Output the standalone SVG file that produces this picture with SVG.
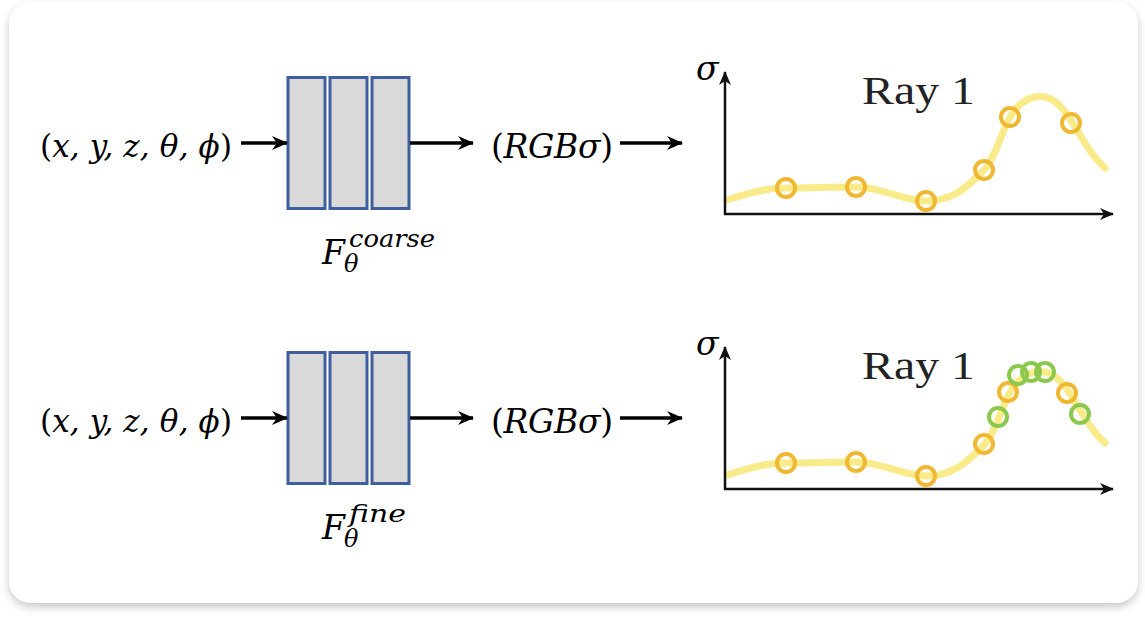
<svg xmlns="http://www.w3.org/2000/svg" width="1145" height="617" viewBox="0 0 1145 617">
<defs>
<filter id="sh" x="-5%" y="-5%" width="110%" height="115%">
<feDropShadow dx="0" dy="4" stdDeviation="4" flood-color="#000" flood-opacity="0.22"/>
</filter>
<marker id="ah" viewBox="0 0 16 14" refX="15" refY="7" markerWidth="16" markerHeight="14" markerUnits="userSpaceOnUse" orient="auto">
<path d="M0,0 L16,7 L0,14 L5,7 Z" fill="#000"/>
</marker>
<marker id="ax" viewBox="0 0 14 12" refX="13" refY="6" markerWidth="14" markerHeight="12" markerUnits="userSpaceOnUse" orient="auto">
<path d="M0,0 L14,6 L0,12 L4,6 Z" fill="#111"/>
</marker>
<path id="curve" d="M 727 200 C 750 193, 765 188, 786 188 C 810 188, 835 187, 856 187 C 880 187, 905 201, 926 201 C 950 201, 965 190, 984 170 C 998 155, 1002 125, 1015 110 C 1025 98, 1035 95, 1045 97 C 1060 100, 1070 118, 1080 135 C 1090 152, 1098 162, 1105 168"/>
</defs>
<style>
.math{font-family:"DejaVu Serif","Liberation Serif",serif;font-style:italic;font-size:33px;fill:#000}
.inp{font-size:31px}
.up{font-style:normal}
.sup{font-family:"DejaVu Serif","Liberation Serif",serif;font-style:italic;font-size:24px;fill:#000}
.ray{font-family:"Liberation Serif","DejaVu Serif",serif;font-size:40px;fill:#222}
.blk{fill:#d9d9d9;stroke:#3f5e9e;stroke-width:3}
.arr{stroke:#000;stroke-width:3.5;fill:none;marker-end:url(#ah)}
.axis{stroke:#111;stroke-width:2.5;fill:none;marker-end:url(#ax)}
.crv{fill:none;stroke:#f9ea8a;stroke-width:7;stroke-linecap:round}
.po{fill:none;stroke:#f0b731;stroke-width:4}
.pg{fill:none;stroke:#8cc84e;stroke-width:4}
</style>
<rect x="0" y="0" width="1145" height="617" fill="#fff"/>
<rect x="9" y="2" width="1129" height="601" rx="22" fill="#fff" filter="url(#sh)"/>

<g id="input-coarse"><text class="math inp" x="40" y="157" textLength="192" lengthAdjust="spacing"><tspan class="up">(</tspan>x, y, z, θ, ϕ<tspan class="up">)</tspan></text></g>
<g id="mlp-coarse">
<rect class="blk" x="288" y="77.5" width="37" height="131"/>
<rect class="blk" x="330" y="77.5" width="37" height="131"/>
<rect class="blk" x="372" y="77.5" width="37" height="131"/>
<text class="math" x="322" y="264" font-size="34">F</text>
<text class="sup" x="344" y="272">θ</text>
<text class="sup" x="349" y="247" textLength="86" lengthAdjust="spacingAndGlyphs">coarse</text>
</g>
<g id="output-coarse"><text class="math" x="491" y="158" textLength="122" lengthAdjust="spacing"><tspan class="up">(</tspan>RGBσ<tspan class="up">)</tspan></text></g>
<g id="plot-coarse">
<use href="#curve" class="crv"/>
<line class="axis" x1="725" y1="215" x2="725" y2="72"/>
<line class="axis" x1="724" y1="214" x2="1113" y2="214"/>
<text class="math" x="696" y="80" font-size="33">σ</text>
<text class="ray" x="862" y="104" textLength="113" lengthAdjust="spacingAndGlyphs">Ray 1</text>
<circle class="po" cx="786" cy="188" r="9"/>
<circle class="po" cx="856" cy="187" r="9"/>
<circle class="po" cx="926" cy="201" r="9"/>
<circle class="po" cx="984" cy="170" r="9"/>
<circle class="po" cx="1010" cy="117" r="9"/>
<circle class="po" cx="1071" cy="123" r="9"/>
</g>

<g id="input-fine"><text class="math inp" x="40" y="432" textLength="192" lengthAdjust="spacing"><tspan class="up">(</tspan>x, y, z, θ, ϕ<tspan class="up">)</tspan></text></g>
<g id="mlp-fine">
<rect class="blk" x="288" y="352.5" width="37" height="131"/>
<rect class="blk" x="330" y="352.5" width="37" height="131"/>
<rect class="blk" x="372" y="352.5" width="37" height="131"/>
<text class="math" x="322" y="539" font-size="34">F</text>
<text class="sup" x="344" y="547">θ</text>
<text class="sup" x="349" y="522" textLength="57" lengthAdjust="spacingAndGlyphs">fine</text>
</g>
<g id="output-fine"><text class="math" x="491" y="433" textLength="122" lengthAdjust="spacing"><tspan class="up">(</tspan>RGBσ<tspan class="up">)</tspan></text></g>
<g id="plot-fine">
<use href="#curve" class="crv" transform="translate(0,275)"/>
<line class="axis" x1="725" y1="490" x2="725" y2="347"/>
<line class="axis" x1="724" y1="489" x2="1113" y2="489"/>
<text class="math" x="696" y="355" font-size="33">σ</text>
<text class="ray" x="862" y="379" textLength="113" lengthAdjust="spacingAndGlyphs">Ray 1</text>
<circle class="po" cx="786" cy="463" r="9"/>
<circle class="po" cx="856" cy="462" r="9"/>
<circle class="po" cx="926" cy="476" r="9"/>
<circle class="po" cx="984" cy="444" r="9"/>
<circle class="pg" cx="998" cy="417" r="9"/>
<circle class="po" cx="1008" cy="392" r="9"/>
<circle class="pg" cx="1018" cy="375" r="9"/>
<circle class="pg" cx="1031" cy="372" r="9"/>
<circle class="pg" cx="1045" cy="372" r="9"/>
<circle class="po" cx="1067" cy="393" r="9"/>
<circle class="pg" cx="1080" cy="414" r="9"/>
</g>

<g id="connectors">
<line class="arr" x1="241" y1="143" x2="287" y2="143"/>
<line class="arr" x1="410" y1="143" x2="473" y2="143"/>
<line class="arr" x1="620" y1="143" x2="682" y2="143"/>
<line class="arr" x1="241" y1="418" x2="287" y2="418"/>
<line class="arr" x1="410" y1="418" x2="473" y2="418"/>
<line class="arr" x1="620" y1="418" x2="682" y2="418"/>
</g>
</svg>
